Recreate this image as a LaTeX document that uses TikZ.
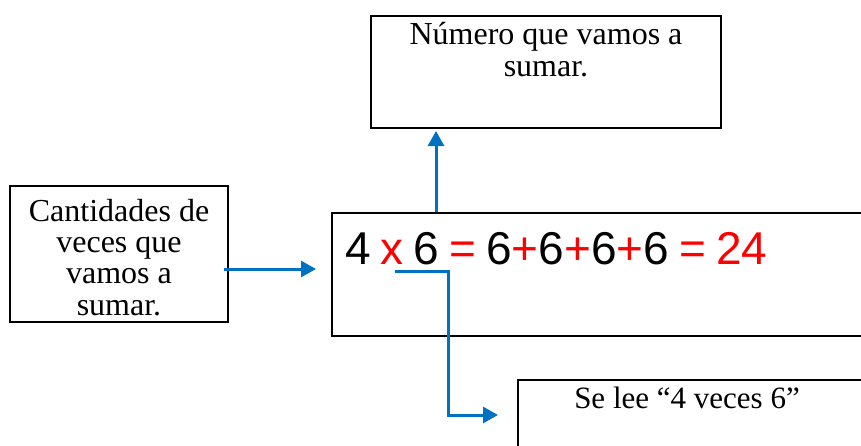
\documentclass[tikz,border=0pt]{standalone}
\usepackage{fontspec}
\setmainfont{Liberation Serif}
\newfontfamily\eqfont{Liberation Sans}
\usetikzlibrary{arrows.meta}
\definecolor{arrowblue}{HTML}{0070C0}
\definecolor{eqred}{HTML}{FF0000}
\newcommand{\gapsp}{\hspace{10pt}}
\begin{document}
\begin{tikzpicture}[x=1pt,y=-1pt,
  box/.style={draw=black, line width=2pt, inner sep=0pt},
  lbl/.style={font=\fontsize{32}{31.3}\selectfont, align=center, inner sep=0pt, anchor=base},
  link/.style={draw=arrowblue, line width=3pt, -{Triangle[length=15pt,width=16pt]}}]
\clip (0,0) rectangle (861,445);
% boxes
\node[box, minimum width=350pt, minimum height=112pt] (top) at (546,72) {};
\node[box, minimum width=218pt, minimum height=136pt] (left) at (119,254) {};
\node[box, minimum width=532pt, minimum height=123pt] (main) at (598,274.5) {};
\node[box, minimum width=346pt, minimum height=90pt] (read) at (691,425) {};
% texts (anchor base = baseline of the last line)
\node[lbl] (toptext) at (546,76) {Número que vamos a\\sumar.};
\node[lbl] (lefttext) at (119,315) {Cantidades de\\veces que\\vamos a\\sumar.};
\node[lbl, font=\fontsize{31}{31.3}\selectfont] (readtext) at (687,408) {Se lee “4 veces 6”};
\node[inner sep=0pt, anchor=base west, font=\eqfont\fontsize{46}{46}\selectfont] (eq) at (345,264)
  {4\gapsp\textcolor{eqred}{x}\gapsp 6\gapsp\textcolor{eqred}{=}\gapsp 6\textcolor{eqred}{+}6\textcolor{eqred}{+}6\textcolor{eqred}{+}6\gapsp\textcolor{eqred}{=}\gapsp\textcolor{eqred}{24}};
% connectors
\coordinate (ax) at (0,269);
\coordinate (upx) at (436,0);
\coordinate (xs) at (395,271);
\coordinate (readend) at (498,415);
\draw[link] ([xshift=-5pt]left.east |- ax) -- ([xshift=-15pt]main.west |- ax);
\draw[link] (main.north -| upx) -- ([yshift=-2pt]top.south -| upx);
\draw[link] (xs) -- ++(53,0) |- (readend);
\end{tikzpicture}
\end{document}
